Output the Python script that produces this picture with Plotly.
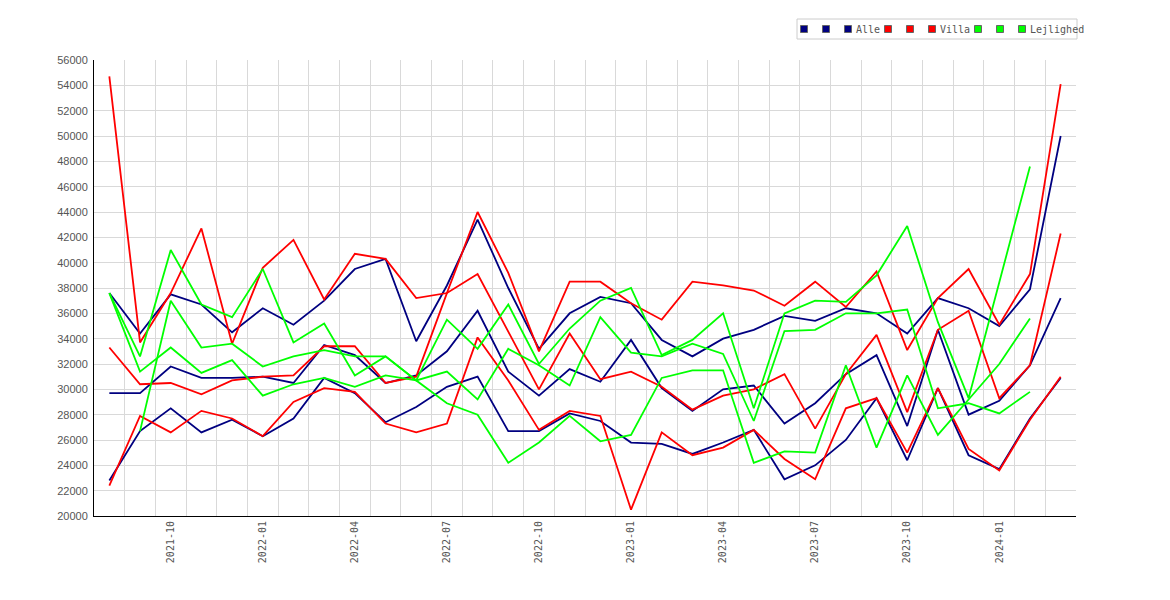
import plotly.graph_objects as go

# months on the x axis (one point per month)
months = [
    "2021-08", "2021-09", "2021-10", "2021-11", "2021-12",
    "2022-01", "2022-02", "2022-03", "2022-04", "2022-05", "2022-06",
    "2022-07", "2022-08", "2022-09", "2022-10", "2022-11", "2022-12",
    "2023-01", "2023-02", "2023-03", "2023-04", "2023-05", "2023-06",
    "2023-07", "2023-08", "2023-09", "2023-10", "2023-11", "2023-12",
    "2024-01", "2024-02", "2024-03",
]
tick_months = ["2021-10", "2022-01", "2022-04", "2022-07", "2022-10",
               "2023-01", "2023-04", "2023-07", "2023-10", "2024-01"]

alle_hi = [37600, 34400, 37500, 36700, 34500, 36400, 35100, 37000, 39500, 40300,
           33800, 38200, 43400, 38000, 33200, 36000, 37300, 36800, 33900, 32600,
           34000, 34700, 35800, 35400, 36400, 36000, 34400, 37200, 36400, 35000,
           37900, 50000]
alle_mid = [29700, 29700, 31800, 30900, 30900, 31000, 30500, 33500, 32700, 30500,
            31100, 33000, 36200, 31400, 29500, 31600, 30600, 33900, 30100, 28300,
            30000, 30300, 27300, 28900, 31200, 32700, 27100, 34700, 28000, 29100,
            31900, 37200]
alle_lo = [22800, 26700, 28500, 26600, 27600, 26300, 27700, 30900, 29700, 27400,
           28600, 30200, 31000, 26700, 26700, 28100, 27500, 25800, 25700, 24900,
           25800, 26800, 22900, 24000, 26000, 29300, 24400, 30100, 24800, 23700,
           27700, 30900]

villa_hi = [54700, 33700, 37600, 42700, 33600, 39600, 41800, 37100, 40700, 40300,
            37200, 37600, 44000, 39200, 33000, 38500, 38500, 36800, 35500, 38500,
            38200, 37800, 36600, 38500, 36500, 39300, 33100, 37200, 39500, 35100,
            39100, 54100]
villa_mid = [33300, 30400, 30500, 29600, 30700, 31000, 31100, 33400, 33400, 30500,
             31000, 37600, 39100, 34500, 30000, 34400, 30800, 31400, 30200, 28400,
             29500, 30000, 31200, 26900, 31200, 34300, 28200, 34700, 36200, 29300,
             31900, 42300]
villa_lo = [22400, 27900, 26600, 28300, 27700, 26300, 29000, 30100, 29800, 27300,
            26600, 27300, 34100, 30700, 26800, 28300, 27900, 20500, 26600, 24800,
            25400, 26800, 24500, 22900, 28500, 29300, 25000, 30100, 25300, 23600,
            27600, 31000]

lej_1 = [37600, 32600, 41000, 36700, 35700, 39500, 33700, 35200, 31100, 32600,
         30700, 35500, 33200, 36700, 32000, 34800, 37000, 38000, 32700, 33900,
         36000, 28500, 36000, 37000, 36900, 39000, 42900, 35300, 29300, 38400,
         47600, None]
lej_2 = [37600, 31400, 33300, 31300, 32300, 29500, 30400, 30900, 30200, 31100,
         30700, 28900, 28000, 24200, 25800, 27900, 25900, 26400, 30900, 31500,
         31500, 24200, 25100, 25000, 31900, 25400, 31100, 26400, 29200, 32000,
         35600, None]
lej_3 = [None, 26700, 37000, 33300, 33600, 31800, 32600, 33100, 32600, 32600,
         30700, 31400, 29200, 33200, 31900, 30300, 35700, 32900, 32600, 33600,
         32800, 27500, 34600, 34700, 36000, 36000, 36300, 28500, 28900, 28100,
         29800, None]

groups = [
    ("Alle", "#000080", [alle_hi, alle_mid, alle_lo]),
    ("Villa", "#ff0000", [villa_hi, villa_mid, villa_lo]),
    ("Lejlighed", "#00ff00", [lej_1, lej_2, lej_3]),
]

W, H = 1170, 600
PL, PR, PT, PB = 94, 1076, 60, 516
GRID = "#d9d9d9"
TXT = "#555555"
MONO = "DejaVu Sans Mono"

fig = go.Figure()
for name, color, series in groups:
    for ys in series:
        fig.add_trace(go.Scatter(
            x=months, y=ys, mode="lines", name=name, showlegend=False,
            line=dict(color=color, width=1.8),
        ))


def pxx(px):
    return (px - PL) / (PR - PL)


def pxy(py):
    return (PB - py) / (PB - PT)


# hand-made legend: three squares per group, name after the last one
shapes = [dict(type="rect", xref="paper", yref="paper",
               x0=pxx(797), x1=pxx(1077), y0=pxy(39), y1=pxy(19),
               line=dict(color="#cccccc", width=1), fillcolor="white")]
annotations = []
for (name, color, _), start in zip(groups, [804, 888, 978]):
    for k in range(3):
        cx = start + 22 * k
        shapes.append(dict(type="rect", xref="paper", yref="paper",
                           x0=pxx(cx - 3.5), x1=pxx(cx + 3.5),
                           y0=pxy(32.5), y1=pxy(25.5),
                           line=dict(color="#666666", width=1), fillcolor=color))
    annotations.append(dict(xref="paper", yref="paper", x=pxx(start + 50), y=pxy(29),
                            xanchor="left", yanchor="middle", showarrow=False,
                            text=name, font=dict(family=MONO, size=10, color=TXT)))

fig.update_layout(
    width=W, height=H,
    margin=dict(l=PL, r=W - PR, t=PT, b=H - PB, pad=0),
    paper_bgcolor="white", plot_bgcolor="white",
    showlegend=False,
    shapes=shapes, annotations=annotations,
    xaxis=dict(
        type="category", categoryorder="array", categoryarray=months,
        range=[-0.5, len(months) - 0.5],
        tickmode="array", tickvals=months,
        ticktext=[m if m in tick_months else "" for m in months],
        tickson="boundaries", ticks="", tickangle=-90,
        tickfont=dict(family=MONO, size=10, color=TXT),
        showgrid=True, gridcolor=GRID, gridwidth=1,
        showline=True, linecolor="black", linewidth=1,
        zeroline=False,
    ),
    yaxis=dict(
        range=[20000, 56000], dtick=2000, tick0=20000,
        ticks="", tickformat="d", ticklabelstandoff=3,
        tickfont=dict(family="Liberation Sans", size=11, color=TXT),
        showgrid=True, gridcolor=GRID, gridwidth=1,
        showline=True, linecolor="black", linewidth=1,
        zeroline=False,
    ),
)

fig.write_html("out.html", config={"displayModeBar": False},
               post_script="document.body.style.margin='0';")
